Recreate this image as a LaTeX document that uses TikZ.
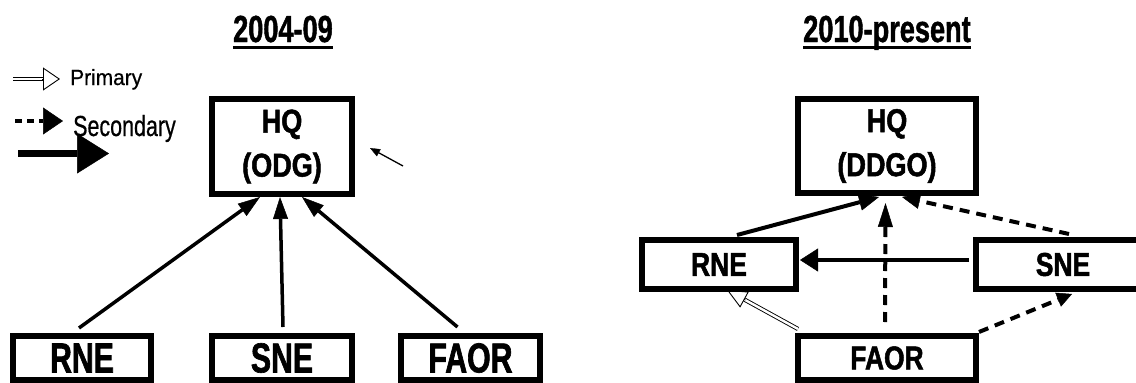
\documentclass[tikz,border=0pt]{standalone}
\usepackage{fontspec}
\setmainfont{Liberation Sans}
\newfontfamily\ttlfont[FakeStretch=0.72,FakeBold=1.2]{Liberation Sans}
\newfontfamily\hqboxfont[FakeStretch=0.82,FakeBold=1.5]{Liberation Sans}
\newfontfamily\bigboxfont[FakeStretch=0.72,FakeBold=1.5]{Liberation Sans}
\newfontfamily\smboxfont[FakeStretch=0.80,FakeBold=1.5]{Liberation Sans}
\newfontfamily\lgfontA[FakeStretch=0.95,FakeBold=0.6]{Liberation Sans}
\newfontfamily\lgfontB[FakeStretch=0.74,FakeBold=0.6]{Liberation Sans}
\usetikzlibrary{arrows.meta,calc}
\pgfdeclarelayer{bg}
\pgfsetlayers{bg,main}
\begin{document}
\begin{tikzpicture}[x=1pt,y=-1pt,
  orgbox/.style={draw, line width=6pt, fill=white, inner sep=0pt, align=center},
  hqfont/.style={font=\hqboxfont\bfseries\fontsize{33}{44}\selectfont},
  bigfont/.style={font=\bigboxfont\bfseries\fontsize{42}{48}\selectfont},
  smfont/.style={font=\smboxfont\bfseries\fontsize{33}{40}\selectfont},
  ttl/.style={font=\ttlfont\bfseries\fontsize{37.7}{42}\selectfont, anchor=base, inner sep=0pt},
  uline/.style={line width=3pt},
  larr/.style={line width=3.5pt, -{Triangle[length=22pt,width=15pt,line width=0.5pt]}},
  rarr/.style={line width=4pt},
  dasharr/.style={line width=4pt, dash pattern=on 10pt off 7pt},
  primshaft/.style={line width=0.9pt, double=white, double distance=2.4pt},
  primhead/.style={line width=0.9pt}
]
\useasboundingbox (0,0) rectangle (1136,383);

% titles
\node[ttl] (t1) at (283,42) {2004-09};
\draw[uline] ($(t1.base west)+(0,5.5)$) -- ($(t1.base east)+(0,5.5)$);
\node[ttl] (t2) at (887,42) {2010-present};
\draw[uline] ($(t2.base west)+(0,5.5)$) -- ($(t2.base east)+(0,5.5)$);

% legend
\node[font=\lgfontA\fontsize{22}{26}\selectfont, anchor=base west, inner sep=0pt] (lp) at (70,85) {Primary};
\coordinate (lpA) at (13,79);
\coordinate (lpT) at (60,79);
\draw[primshaft] (lpA) -- ($(lpT)!17pt!(lpA)$);
\draw[primhead, -{Triangle[open,length=17pt,width=23pt]}] ($(lpT)!18pt!(lpA)$) -- (lpT);

\coordinate (lsA) at (15,121);
\coordinate (lsT) at (63,121);
\draw[line width=4pt, dash pattern=on 7pt off 5pt, -{Triangle[length=20pt,width=27pt,line width=0.5pt]}] (lsA) -- (lsT);
\node[font=\lgfontB\fontsize{29}{34}\selectfont, anchor=base west, inner sep=0pt] (ls) at (73,136) {Secondary};

\coordinate (lbA) at (18,153.5);
\coordinate (lbT) at (109,153.5);
\draw[line width=7pt, -{Triangle[length=32pt,width=40pt,line width=0.5pt]}] (lbA) -- (lbT);

% left panel boxes
\node[orgbox, hqfont, minimum width=140pt, minimum height=95pt] (hq1) at (282,146.5) {HQ\\(ODG)};
\node[orgbox, bigfont, minimum width=138pt, minimum height=44pt] (rne1) at (82,358) {RNE};
\node[orgbox, bigfont, minimum width=140pt, minimum height=44pt] (sne1) at (282,358) {SNE};
\node[orgbox, bigfont, minimum width=139pt, minimum height=44pt] (faor1) at (470.5,358) {FAOR};

% right panel boxes
\node[orgbox, hqfont, minimum width=178pt, minimum height=94pt] (hq2) at (887,146) {HQ\\(DDGO)};
\node[orgbox, smfont, minimum width=154pt, minimum height=49pt] (rne2) at (719,264.5) {RNE};
\node[orgbox, smfont, minimum width=174pt, minimum height=49pt] (sne2) at (1063,264.5) {SNE};
\node[orgbox, smfont, minimum width=178pt, minimum height=44pt] (faor2) at (887,358) {FAOR};

% small pointer arrow
\coordinate (pA) at ($(hq1.east)+(48,19.5)$);
\coordinate (pT) at ($(hq1.east)+(15,1.5)$);
\draw[line width=1.3pt, -{Triangle[length=10pt,width=8pt,line width=0.3pt]}] (pA) -- (pT);

\begin{pgfonlayer}{bg}
% left panel connectors
\draw[larr] ($(rne1.north)+(-3,-5)$) -- ($(hq1.south)+(-22,0)$);
\draw[larr] ($(sne1.north)+(1,-6)$) -- ($(hq1.south)+(-2,0)$);
\draw[larr] ($(faor1.north)+(-13,-6)$) -- ($(hq1.south)+(20,0)$);

% right panel connectors
\draw[rarr, -{Triangle[length=20pt,width=17pt,line width=0.5pt]}] ($(rne2.north)+(18,-2)$) -- ($(hq2.south)+(-8,1)$);
\draw[dasharr, -{Triangle[length=18pt,width=16pt,line width=0.5pt]}] ($(sne2.north)+(6,-3)$) -- ($(hq2.south)+(15,1)$);
\draw[dasharr, -{Triangle[length=24pt,width=15pt,line width=0.5pt]}] ($(faor2.north)+(-2,-11)$) -- ($(hq2.south)+(-1.5,7)$);
\draw[rarr, -{Triangle[length=18pt,width=23pt,line width=0.5pt]}] ($(sne2.west)+(-4,-4.5)$) -- ($(rne2.east)+(1,-4.5)$);
\draw[dasharr, -{Triangle[length=15pt,width=15pt,line width=0.5pt]}] ($(faor2.north east)+(0,-1)$) -- ($(sne2.south)+(9,2)$);

% primary connector FAOR -> RNE
\coordinate (qS) at ($(faor2.north west)+(3,-4)$);
\coordinate (qT) at ($(rne2.south)+(8,-2)$);
\draw[primshaft] (qS) -- ($(qT)!20pt!(qS)$);
\draw[primhead, -{Triangle[open,length=20pt,width=18pt]}] ($(qT)!21pt!(qS)$) -- (qT);
\end{pgfonlayer}
\end{tikzpicture}
\end{document}
